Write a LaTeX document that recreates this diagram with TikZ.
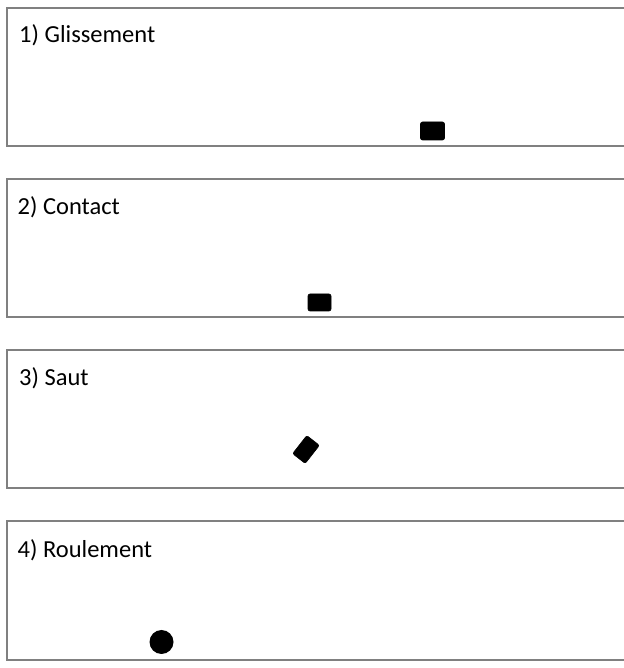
\documentclass[tikz,border=0pt]{standalone}
\usepackage{fontspec}
\setmainfont{Carlito}
\definecolor{framegray}{RGB}{128,128,128}
\begin{document}
\begin{tikzpicture}[x=1pt,y=1pt,
  frame/.style={draw=framegray,line width=1.1pt},
  title/.style={anchor=base west,inner sep=0pt,font=\fontsize{24.5}{28}\selectfont},
  block/.style={fill=black,draw=black,rounded corners=2pt,inner sep=0pt,line width=0.6pt},
  ball/.style={circle,fill=black,inner sep=0pt,minimum size=24pt}]
\useasboundingbox (0,0) rectangle (623,668);
% panels (y measured from bottom: 668 - pixel y)
\draw[frame] (623.5,660) -- (7,660) -- (7,522) -- (623.5,522);
\draw[frame] (623.5,489) -- (7,489) -- (7,351) -- (623.5,351);
\draw[frame] (623.5,318) -- (7,318) -- (7,180) -- (623.5,180);
\draw[frame] (623.5,147) -- (7,147) -- (7,8) -- (623.5,8);
% titles
\node[title] (t1) at (19,625.5) {1) Glissement};
\node[title] (t2) at (17.5,453.5) {2) Contact};
\node[title] (t3) at (19,282.5) {3) Saut};
\node[title] (t4) at (17.5,110.5) {4) Roulement};
% objects
\node[block,minimum width=24pt,minimum height=18pt] (b1) at (432.5,537) {};
\node[block,minimum width=23pt,minimum height=17pt] (b2) at (319.5,365.5) {};
\node[block,minimum width=23pt,minimum height=16pt,rotate=52] (b3) at (306,218.5) {};
\node[ball] (b4) at (161.5,26) {};
\end{tikzpicture}
\end{document}
